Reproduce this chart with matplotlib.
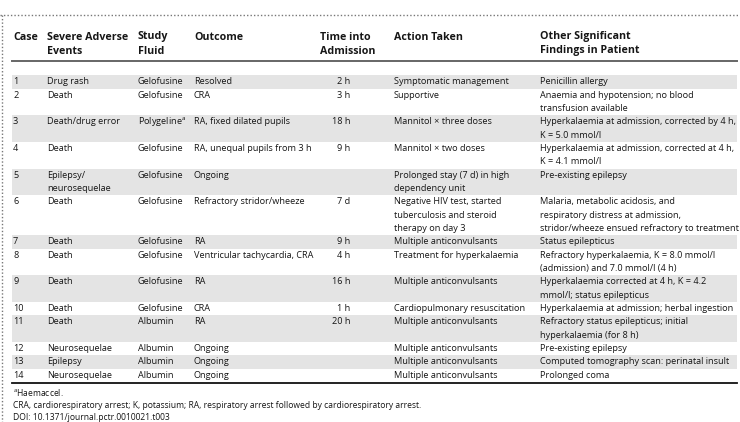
import matplotlib
matplotlib.use("Agg")
import matplotlib.pyplot as plt
from matplotlib.patches import Rectangle

plt.rcParams['font.family'] = ['Open Sans', 'DejaVu Sans']
plt.rcParams['mathtext.fontset'] = 'custom'
plt.rcParams['mathtext.rm'] = 'Open Sans'
plt.rcParams['mathtext.it'] = 'Open Sans:italic'
plt.rcParams['mathtext.bf'] = 'Open Sans:bold'

headers = ["Case", "Severe Adverse\nEvents", "Study\nFluid", "Outcome",
           "Time into\nAdmission", "Action Taken", "Other Significant\nFindings in Patient"]

cases = [str(i) for i in range(1, 15)]
events = ["Drug rash", "Death", "Death/drug error", "Death", "Epilepsy/\nneurosequelae",
          "Death", "Death", "Death", "Death", "Death", "Death", "Neurosequelae",
          "Epilepsy", "Neurosequelae"]
fluids = ["Gelofusine", "Gelofusine", "Polygeline$^{\\mathrm{a}}$", "Gelofusine", "Gelofusine",
          "Gelofusine", "Gelofusine", "Gelofusine", "Gelofusine", "Gelofusine", "Albumin",
          "Albumin", "Albumin", "Albumin"]
outcomes = ["Resolved", "CRA", "RA, fixed dilated pupils", "RA, unequal pupils from 3 h",
            "Ongoing", "Refractory stridor/wheeze", "RA", "Ventricular tachycardia, CRA",
            "RA", "CRA", "RA", "Ongoing", "Ongoing", "Ongoing"]
times = ["2 h", "3 h", "18 h", "9 h", "", "7 d", "9 h", "4 h", "16 h", "1 h", "20 h",
         "", "", ""]
actions = ["Symptomatic management", "Supportive", "Mannitol \u00d7 three doses",
           "Mannitol \u00d7 two doses", "Prolonged stay (7 d) in high\ndependency unit",
           "Negative HIV test, started\ntuberculosis and steroid\ntherapy on day 3",
           "Multiple anticonvulsants", "Treatment for hyperkalaemia",
           "Multiple anticonvulsants", "Cardiopulmonary resuscitation",
           "Multiple anticonvulsants", "Multiple anticonvulsants",
           "Multiple anticonvulsants", "Multiple anticonvulsants"]
findings = ["Penicillin allergy",
            "Anaemia and hypotension; no blood\ntransfusion available",
            "Hyperkalaemia at admission, corrected by 4 h,\nK = 5.0 mmol/l",
            "Hyperkalaemia at admission, corrected at 4 h,\nK = 4.1 mmol/l",
            "Pre-existing epilepsy",
            "Malaria, metabolic acidosis, and\nrespiratory distress at admission,\nstridor/wheeze ensued refractory to treatment",
            "Status epilepticus",
            "Refractory hyperkalaemia, K = 8.0 mmol/l\n(admission) and 7.0 mmol/l (4 h)",
            "Hyperkalaemia corrected at 4 h, K = 4.2\nmmol/l; status epilepticus",
            "Hyperkalaemia at admission; herbal ingestion",
            "Refractory status epilepticus; initial\nhyperkalaemia (for 8 h)",
            "Pre-existing epilepsy",
            "Computed tomography scan: perinatal insult",
            "Prolonged coma"]
footnotes = ["$^{\\mathrm{a}}$Haemaccel.",
             "CRA, cardiorespiratory arrest; K, potassium; RA, respiratory arrest followed by cardiorespiratory arrest.",
             "DOI: 10.1371/journal.pctr.0010021.t003"]

W, H = 740, 422
fig = plt.figure(figsize=(W / 100, H / 100), dpi=100)
ax = fig.add_axes([0, 0, 1, 1])
ax.set_xlim(0, W)
ax.set_ylim(H, 0)
ax.axis('off')

fs = 6.6
txt_color = '#161616'
col_x = [13, 47, 138, 194, 350, 394, 540]
head_x = [13, 47, 138, 194, 320, 394, 540]
pitch = 13.33
y0 = 82

# dotted frame
ax.plot([0, W], [15, 15], color='#777777', lw=1.0, ls=(0, (1, 1.5)))
ax.plot([1.5, 1.5], [15, H], color='#777777', lw=1.0, ls=(0, (1, 1.5)))

# headers
for hx, h in zip(head_x, headers):
    for j, line in enumerate(h.split("\n")):
        ax.text(hx, 37 + j * 14, line, fontsize=7.7, fontweight='bold',
                va='center', ha='left', color=txt_color)
ax.plot([12, 737], [61, 61], color='#666666', lw=1.4)

columns = [cases, events, fluids, outcomes, times, actions, findings]
y = y0
for i in range(len(cases)):
    nlines = max(len(c[i].split("\n")) for c in columns)
    if i % 2 == 0:
        ax.add_patch(Rectangle((12, y - pitch / 2), 725, nlines * pitch,
                               facecolor='#e4e4e4', edgecolor='none', zorder=0))
    for k, col in enumerate(columns):
        for j, line in enumerate(col[i].split("\n")):
            ax.text(col_x[k], y + j * pitch, line, fontsize=fs, va='center',
                    ha='right' if k == 4 else 'left', color=txt_color)
    y += nlines * pitch

ax.plot([12, 737], [y - pitch / 2 + 1, y - pitch / 2 + 1], color='#111111', lw=1.3)

for j, f in enumerate(footnotes):
    ax.text(13, 393 + j * 12.2, f, fontsize=6.15, va='center', ha='left', color=txt_color)

fig.savefig("out.png", dpi=100)
